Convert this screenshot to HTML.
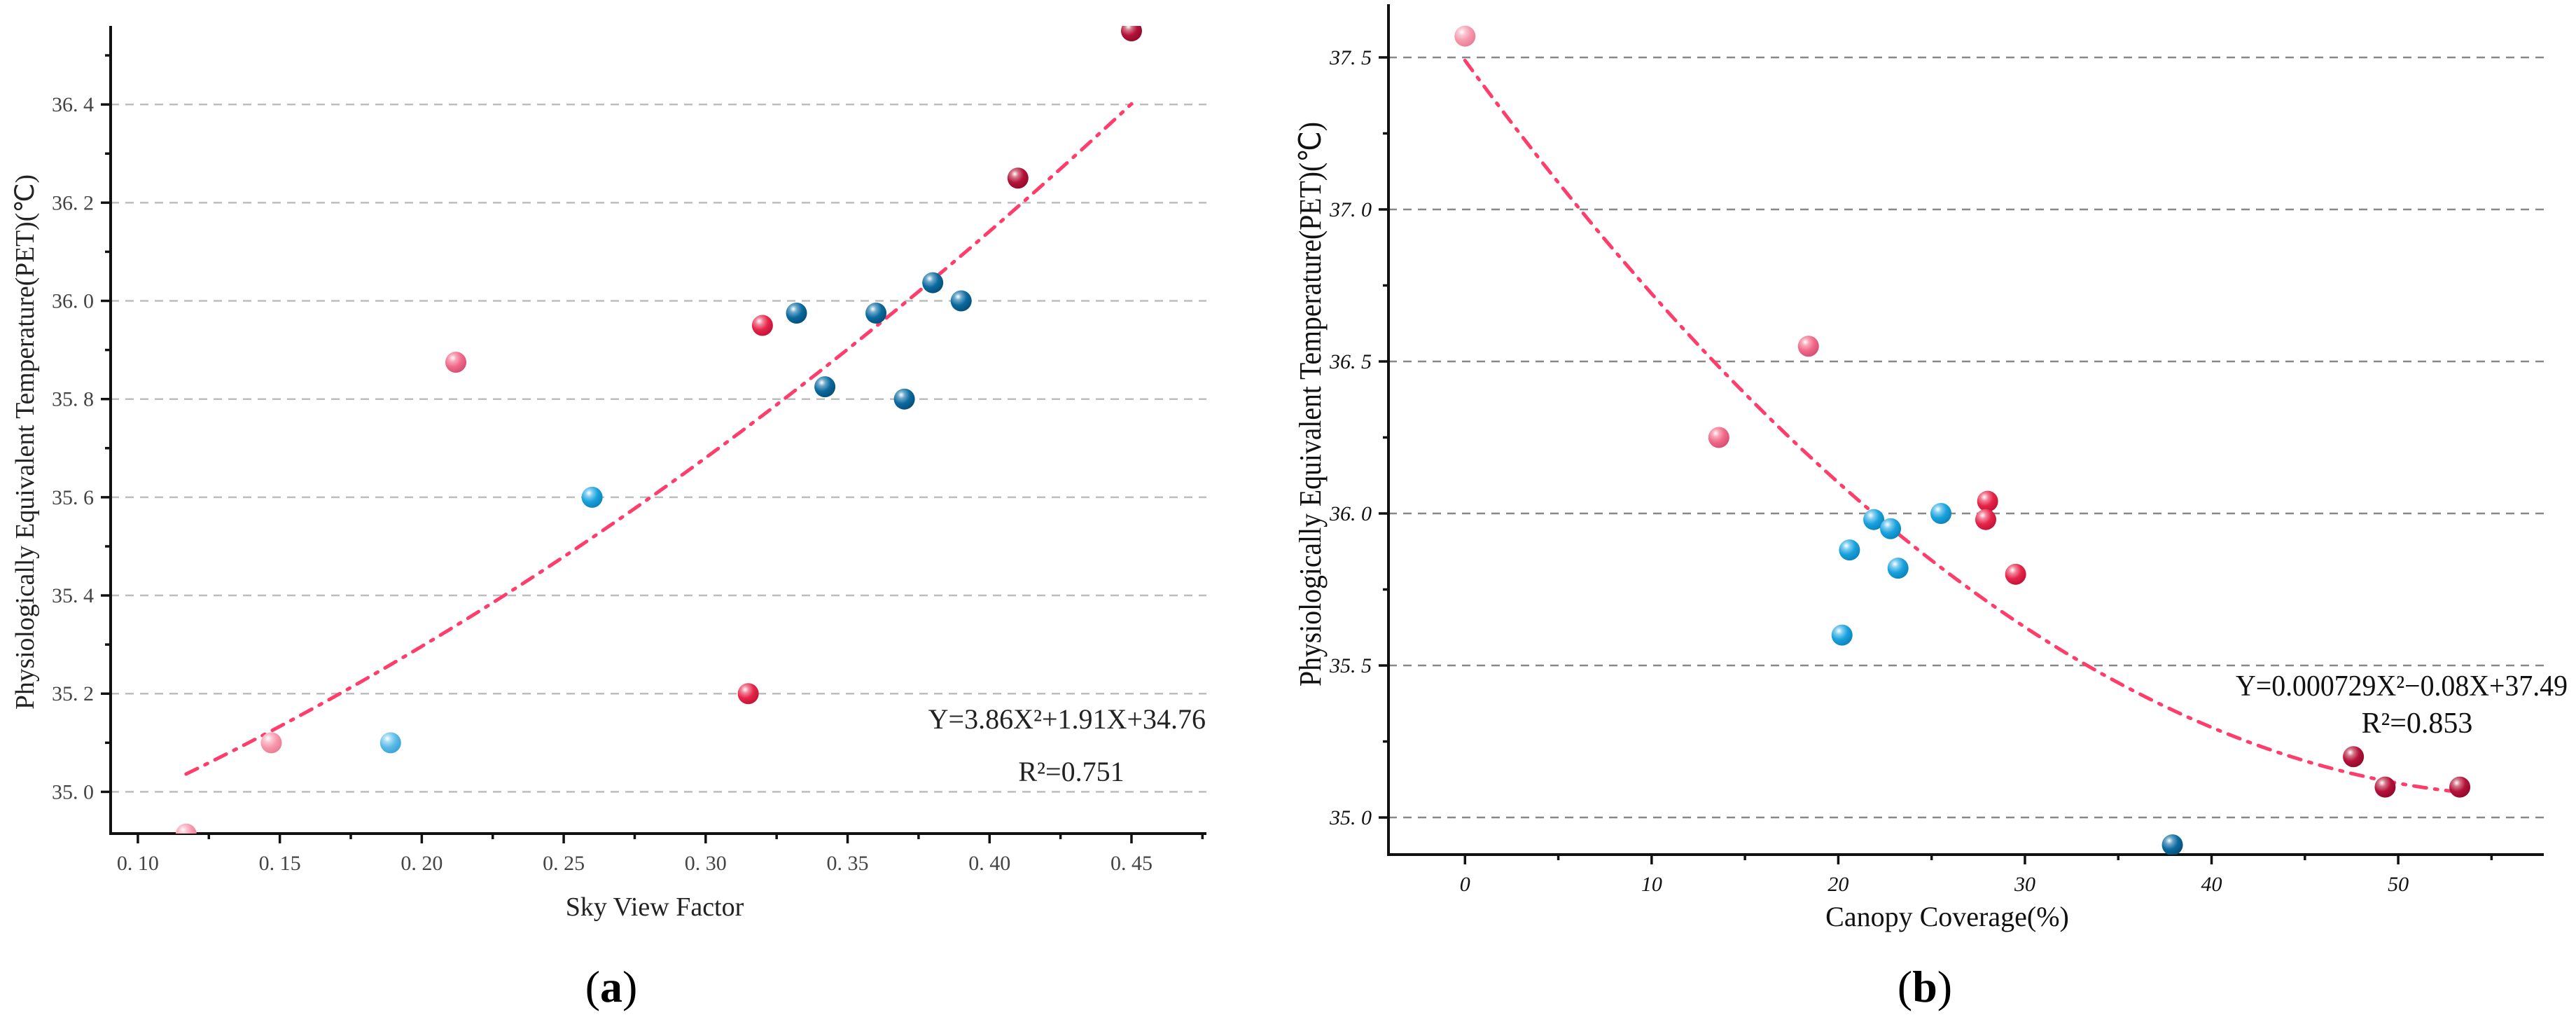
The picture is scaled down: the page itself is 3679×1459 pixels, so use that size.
<!DOCTYPE html>
<html><head><meta charset="utf-8"><style>
html,body{margin:0;padding:0;background:#fff;}
svg{display:block;font-family:"Liberation Serif",serif;}
</style></head><body>
<svg id="fig" width="3679" height="1459" viewBox="0 0 3679 1459" xmlns="http://www.w3.org/2000/svg">
<defs>
<radialGradient id="gLP" cx="0.35" cy="0.3" r="0.7"><stop offset="0" stop-color="#fff"/><stop offset="0.25" stop-color="#fbc6d2"/><stop offset="0.6" stop-color="#f799ad"/><stop offset="1" stop-color="#e98099"/></radialGradient>
<radialGradient id="gP" cx="0.35" cy="0.3" r="0.7"><stop offset="0" stop-color="#fff"/><stop offset="0.25" stop-color="#f9a6b8"/><stop offset="0.6" stop-color="#f06a8a"/><stop offset="1" stop-color="#d95075"/></radialGradient>
<radialGradient id="gR" cx="0.35" cy="0.3" r="0.7"><stop offset="0" stop-color="#fff"/><stop offset="0.25" stop-color="#f28399"/><stop offset="0.6" stop-color="#e6254a"/><stop offset="1" stop-color="#c51538"/></radialGradient>
<radialGradient id="gC" cx="0.35" cy="0.3" r="0.7"><stop offset="0" stop-color="#fff"/><stop offset="0.25" stop-color="#d27386"/><stop offset="0.6" stop-color="#b5123a"/><stop offset="1" stop-color="#950a2c"/></radialGradient>
<radialGradient id="gLB" cx="0.35" cy="0.3" r="0.7"><stop offset="0" stop-color="#fff"/><stop offset="0.25" stop-color="#a5dcf5"/><stop offset="0.6" stop-color="#5bbbe8"/><stop offset="1" stop-color="#3fa4d8"/></radialGradient>
<radialGradient id="gB" cx="0.35" cy="0.3" r="0.7"><stop offset="0" stop-color="#fff"/><stop offset="0.25" stop-color="#7fcdf0"/><stop offset="0.6" stop-color="#19a2dd"/><stop offset="1" stop-color="#0d86c0"/></radialGradient>
<radialGradient id="gDB" cx="0.35" cy="0.3" r="0.7"><stop offset="0" stop-color="#fff"/><stop offset="0.25" stop-color="#6aa6c8"/><stop offset="0.6" stop-color="#0b6a9f"/><stop offset="1" stop-color="#06517d"/></radialGradient>
</defs>
</svg>
<script>
// ---- Chart (a) data ----
const aX = [0.117,0.147,0.189,0.212,0.260,0.315,0.320,0.332,0.342,0.360,0.370,0.380,0.390,0.410,0.450];
const aY = [34.914,35.10,35.10,35.875,35.60,35.20,35.95,35.975,35.825,35.975,35.80,36.037,36.00,36.25,36.55];
const aColor = ['gLP','gLP','gLB','gP','gB','gR','gR','gDB','gDB','gDB','gDB','gDB','gDB','gC','gC'];
const aXTicks = [0.10,0.15,0.20,0.25,0.30,0.35,0.40,0.45];
const aXTickLabels = ['0. 10','0. 15','0. 20','0. 25','0. 30','0. 35','0. 40','0. 45'];
const aYTicks = [35.0,35.2,35.4,35.6,35.8,36.0,36.2,36.4];
const aYTickLabels = ['35. 0','35. 2','35. 4','35. 6','35. 8','36. 0','36. 2','36. 4'];
const aFit = [3.86,1.91,34.76];
const aFitRange = [0.117,0.45];
// ---- Chart (b) data ----
const bX = [0,13.6,18.4,20.2,20.6,21.9,22.8,23.2,25.5,28.0,27.9,29.5,37.9,47.6,49.3,53.3];
const bY = [37.57,36.25,36.55,35.60,35.88,35.98,35.95,35.82,36.00,36.04,35.98,35.80,34.91,35.20,35.10,35.10];
const bColor = ['gLP','gP','gP','gB','gB','gB','gB','gB','gB','gR','gR','gR','gDB','gC','gC','gC'];
const bXTicks = [0,10,20,30,40,50];
const bXTickLabels = ['0','10','20','30','40','50'];
const bYTicks = [35.0,35.5,36.0,36.5,37.0,37.5];
const bYTickLabels = ['35. 0','35. 5','36. 0','36. 5','37. 0','37. 5'];
const bFit = [0.000729,-0.084,37.49];
const bFitRange = [0,53.3];

const NS='http://www.w3.org/2000/svg';
const svg=document.getElementById('fig');
function mk(tag,attrs,parent,text){const e=document.createElementNS(NS,tag);for(const k in attrs)e.setAttribute(k,attrs[k]);if(text!==undefined)e.textContent=text;(parent||svg).appendChild(e);return e;}

function chart(cfg){
  const g=mk('g',{});
  
  
  const sx=v=>cfg.x0+(v-cfg.xd[0])/(cfg.xd[1]-cfg.xd[0])*(cfg.x1-cfg.x0);
  const sy=v=>cfg.yb-(v-cfg.yd[0])/(cfg.yd[1]-cfg.yd[0])*(cfg.yb-cfg.yt);
  // gridlines
  cfg.yTicks.forEach(t=>{
    const l=mk('line',{x1:cfg.x0,x2:cfg.x1,y1:sy(t),y2:sy(t),stroke:cfg.grid,'stroke-width':2.5,'stroke-dasharray':'12 9'},g);
    
    
  });
  // axes
  const ax=mk('path',{d:`M${cfg.x0},${cfg.yt} L${cfg.x0},${cfg.yb} L${cfg.x1},${cfg.yb}`,fill:'none',stroke:'#111','stroke-width':4},g);
  
  
  // x ticks
  const xs=cfg.xTicks[1]-cfg.xTicks[0];
  for(let v=cfg.xTicks[0]-xs/2;v<=cfg.xd[1]+1e-9;v+=xs/2){
    if(v<cfg.xd[0])continue;
    const major=Math.abs(((v-cfg.xTicks[0])/xs)-Math.round((v-cfg.xTicks[0])/xs))<1e-6;
    mk('line',{x1:sx(v),x2:sx(v),y1:cfg.yb,y2:cfg.yb+(major?14:8),stroke:'#111','stroke-width':3.5},g);
  }
  cfg.xTicks.forEach((t,i)=>{
    const tx=mk('text',{x:sx(t),y:cfg.yb+cfg.xlabDy,'text-anchor':'middle','font-size':30,fill:cfg.tickColor,'font-style':cfg.italic?'italic':'normal'},g,cfg.xTickLabels[i]);
    
    
  });
  // y ticks
  const ys=cfg.yTicks[1]-cfg.yTicks[0];
  for(let v=cfg.yTicks[0]-ys;v<=cfg.yd[1]+1e-9;v+=ys/2){
    if(v<cfg.yd[0])continue;
    const major=Math.abs(((v-cfg.yTicks[0])/ys)-Math.round((v-cfg.yTicks[0])/ys))<1e-6;
    mk('line',{x1:cfg.x0-(major?14:8),x2:cfg.x0,y1:sy(v),y2:sy(v),stroke:'#111','stroke-width':3.5},g);
  }
  cfg.yTicks.forEach((t,i)=>{
    const tx=mk('text',{x:cfg.x0-24,y:sy(t)+10,'text-anchor':'end','font-size':30,fill:cfg.tickColor,'font-style':cfg.italic?'italic':'normal'},g,cfg.yTickLabels[i]);
    
    
  });
  // fit curve
  let d='';const N=80;
  for(let i=0;i<=N;i++){const x=cfg.fr[0]+(cfg.fr[1]-cfg.fr[0])*i/N;const y=cfg.fit[0]*x*x+cfg.fit[1]*x+cfg.fit[2];d+=(i?'L':'M')+sx(x).toFixed(1)+','+sy(y).toFixed(1);}
  const c=mk('path',{d:d,fill:'none',stroke:'#ff3d6b','stroke-width':5,'stroke-dasharray':'18 12 4 12','stroke-linecap':'round'},g);
  
  
  // points
  const clip=mk('clipPath',{id:cfg.name+'-clip'},g);
  mk('rect',{x:cfg.x0,y:cfg.yt,width:cfg.x1-cfg.x0,height:cfg.yb-cfg.yt},clip);
  const pg=mk('g',{'clip-path':`url(#${cfg.name}-clip)`},g);
  cfg.xs.forEach((x,i)=>{
    const p=mk('circle',{cx:sx(x),cy:sy(cfg.ys[i]),r:15,fill:`url(#${cfg.colors[i]})`},pg);
    
    
  });
  return g;
}

const ga=chart({name:'chart-a',x0:158,x1:1723,yt:37,yb:1190,xd:[0.0904,0.4764],yd:[34.915,36.56],
  xTicks:aXTicks,xTickLabels:aXTickLabels,yTicks:aYTicks,yTickLabels:aYTickLabels,
  xs:aX,ys:aY,colors:aColor,fit:aFit,fr:aFitRange,grid:'#bdbdbd',tickColor:'#444',italic:false,xlabDy:52});
const gb=chart({name:'chart-b',x0:1983,x1:3633,yt:6,yb:1220,xd:[-4.1,57.8],yd:[34.878,37.675],
  xTicks:bXTicks,xTickLabels:bXTickLabels,yTicks:bYTicks,yTickLabels:bYTickLabels,
  xs:bX,ys:bY,colors:bColor,fit:bFit,fr:bFitRange,grid:'#888',tickColor:'#111',italic:true,xlabDy:52});

function label(txt,attrs,name){const t=mk('text',attrs,svg,txt);return t;}
// chart a labels
label('Sky View Factor',{x:935,y:1307,'text-anchor':'middle','font-size':38,fill:'#222'},'x-axis-title-a');
label('Physiologically Equivalent Temperature(PET)(℃)',{x:0,y:0,transform:'translate(48,631) rotate(-90)','text-anchor':'middle','font-size':38,fill:'#222',textLength:764,lengthAdjust:'spacingAndGlyphs'},'y-axis-title-a');
label('Y=3.86X²+1.91X+34.76',{x:1722,y:1040,'text-anchor':'end','font-size':40,fill:'#222'},'equation-a');
label('R²=0.751',{x:1530,y:1115,'text-anchor':'middle','font-size':40,fill:'#222'},'r-squared-a');
const pa=label('',{x:873,y:1430,'text-anchor':'middle','font-size':64,fill:'#000'},'panel-label-a');
pa.innerHTML='(<tspan font-weight="bold">a</tspan>)';
// chart b labels
label('Canopy Coverage(%)',{x:2781,y:1322,'text-anchor':'middle','font-size':40,fill:'#111'},'x-axis-title-b');
label('Physiologically Equivalent Temperature(PET)(℃)',{x:0,y:0,transform:'translate(1886,577) rotate(-90)','text-anchor':'middle','font-size':44,fill:'#111',textLength:806,lengthAdjust:'spacingAndGlyphs'},'y-axis-title-b');
label('Y=0.000729X²−0.08X+37.49',{x:3430,y:993,'text-anchor':'middle','font-size':42,fill:'#111',textLength:474,lengthAdjust:'spacingAndGlyphs'},'equation-b');
label('R²=0.853',{x:3452,y:1046,'text-anchor':'middle','font-size':42,fill:'#111'},'r-squared-b');
const pb=label('',{x:2749,y:1430,'text-anchor':'middle','font-size':64,fill:'#000'},'panel-label-b');
pb.innerHTML='(<tspan font-weight="bold">b</tspan>)';
</script>
</body></html>
